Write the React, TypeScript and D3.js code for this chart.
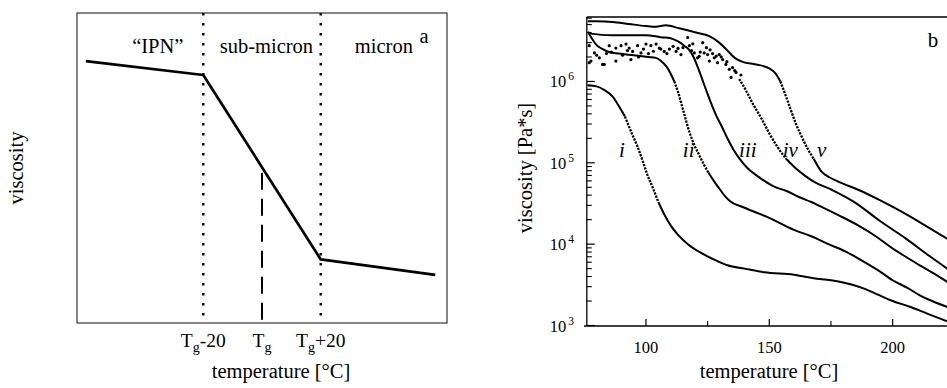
import React from "react";
import * as d3 from "d3";

// ---------- Panel a (schematic) ----------
const aLineT = [-60, -20, 20, 59];
const aLineV = [8.45, 8.0, 2.05, 1.55];
const aDotted = [-20, 20];
const aTg = 0;
const aTgTop = 4.85;
const aTicks = [
  { t: -20, sub: "g", rest: "-20" },
  { t: 0, sub: "g", rest: "" },
  { t: 20, sub: "g", rest: "+20" },
];
const aRegions = [
  { label: "\u201cIPN\u201d", t: -35.5 },
  { label: "sub-micron", t: 1.5 },
  { label: "micron", t: 41.5 },
];

// ---------- Panel b (measured) ----------
const curveI: [number, number][] = [
  [76.5, 8.9e5], [80, 8.7e5], [83, 7.9e5], [86.5, 6.5e5], [89, 5.0e5], [91.5, 3.7e5],
  [94, 2.4e5], [96.5, 1.6e5], [98.6, 1.07e5], [100.5, 7.2e4], [102.7, 5.0e4], [105, 3.3e4],
  [107.5, 2.3e4], [110, 1.7e4], [113, 1.3e4], [117, 1.0e4], [122, 7.9e3], [127, 6.6e3],
  [133, 5.5e3], [140, 5.0e3], [148, 4.5e3], [160, 4.2e3], [168, 3.8e3], [175, 3.6e3],
  [184, 3.15e3], [189, 2.8e3], [194, 2.4e3], [200, 2.0e3], [207, 1.7e3], [214, 1.4e3],
  [223, 1.1e3],
];
const curveII: [number, number][] = [
  [76.5, 4.1e6], [78, 3.4e6], [80, 2.8e6], [82.5, 2.5e6], [85, 2.3e6], [89, 2.2e6],
  [95, 2.1e6], [101, 2.0e6], [104, 1.95e6], [106, 1.8e6], [108.5, 1.5e6], [111.5, 1.0e6],
  [113, 7.4e5], [115.3, 4.2e5], [117.8, 2.3e5], [119.8, 1.6e5], [121.5, 1.26e5], [123.5, 9.5e4],
  [125.3, 7.6e4], [127.5, 6.0e4], [129.8, 4.8e4], [132, 3.9e4], [134, 3.4e4], [140, 2.8e4],
  [150, 2.1e4], [160, 1.5e4], [167, 1.25e4], [174, 1.0e4], [181, 8.1e3], [187.5, 6.3e3],
  [194, 4.8e3], [200, 3.6e3], [206, 2.9e3], [211, 2.35e3], [216, 2.0e3], [223, 1.65e3],
];
const curveIII: [number, number][] = [
  [76.5, 3.9e6], [86, 3.7e6], [100, 3.7e6], [106, 3.5e6], [110, 3.4e6], [113, 3.1e6],
  [115.5, 2.75e6], [117.5, 2.45e6], [119.3, 2.0e6], [121, 1.5e6], [123.5, 9.3e5], [126, 5.8e5],
  [128.5, 3.8e5], [131, 2.7e5], [133, 2.0e5], [135.5, 1.45e5], [138, 1.12e5], [141, 8.7e4],
  [144.5, 7.1e4], [148, 6.0e4], [152, 5.1e4], [157, 4.5e4], [162, 3.8e4], [167, 3.3e4],
  [172, 2.8e4], [179, 2.2e4], [186, 1.7e4], [193, 1.26e4], [199, 9.3e3], [205, 7.1e3],
  [211, 5.5e3], [217, 4.3e3], [223, 3.3e3],
];
const curveIV: [number, number][] = [
  [137.8, 1.07e6], [140.5, 7.8e5], [143.2, 5.4e5], [146.6, 3.6e5], [150, 2.3e5], [153.4, 1.55e5],
  [156.8, 1.12e5], [160.8, 8.5e4], [164, 7.1e4], [167.5, 6.0e4], [175.7, 4.6e4], [185.1, 3.2e4],
  [194.6, 1.95e4], [205.4, 1.17e4], [214.8, 7.2e3], [223, 4.8e3],
];
const curveIVScatter: [number, number][] = [
  [77.0, 2.75e6], [79.1, 2.24e6], [77.0, 1.7e6], [81.1, 1.95e6], [83.1, 1.62e6], [85.1, 2.75e6],
  [87.8, 2.57e6], [89.9, 2.75e6], [91.9, 2.88e6], [93.2, 2.57e6], [94.6, 2.34e6], [96.6, 2.75e6],
  [98.0, 2.24e6], [100.0, 2.88e6], [102.0, 2.75e6], [104.1, 2.88e6], [105.4, 2.57e6], [107.4, 2.34e6],
  [109.5, 2.5e6], [112.2, 2.34e6], [114.2, 2.14e6], [116.9, 3.47e6], [117.6, 2.75e6], [119.6, 2.24e6],
  [120.9, 1.95e6], [123.0, 3.0e6], [123.6, 2.24e6], [121.6, 2.04e6], [125.0, 2.14e6], [125.7, 1.78e6],
  [127.7, 1.95e6], [129.0, 1.7e6], [129.7, 2.14e6], [131.1, 1.86e6], [132.4, 1.62e6], [133.8, 1.41e6],
  [135.1, 1.48e6], [136.5, 1.29e6], [134.5, 1.12e6], [77.7, 1.78e6], [82.4, 1.62e6], [87.8, 1.78e6],
  [93.9, 1.86e6], [80, 2.1e6], [84, 2.2e6], [90.5, 2.1e6], [97, 2.0e6], [101, 2.2e6], [106, 2.5e6],
  [111, 2.7e6], [115, 2.6e6], [118.5, 2.4e6], [122, 2.3e6], [124.5, 2.6e6], [127, 2.2e6], [130.5, 2.0e6],
  [86, 2.3e6], [92.5, 2.4e6], [99, 2.5e6], [103, 2.35e6], [108.5, 2.2e6], [113, 2.55e6], [119, 2.9e6],
  [126, 2.45e6], [128.5, 2.05e6], [132.8, 1.75e6], [136, 1.36e6], [138.5, 1.2e6],
];
const curveV: [number, number][] = [
  [76.5, 5.5e6], [80, 5.5e6], [86.5, 5.4e6], [93, 5.1e6], [100, 4.8e6], [104, 4.7e6],
  [108, 4.9e6], [113.5, 4.5e6], [120.3, 4.0e6], [125.7, 3.6e6], [129.7, 3.0e6], [133, 2.4e6],
  [136, 1.95e6], [139.2, 1.74e6], [144.6, 1.62e6], [150, 1.45e6], [152.5, 1.26e6], [154.5, 1.0e6],
  [156.5, 6.9e5], [158.8, 4.4e5], [160.8, 3.0e5], [162.5, 2.3e5], [165.5, 1.5e5], [168, 1.12e5],
  [171, 7.9e4], [174.5, 6.6e4], [178.4, 5.8e4], [186.5, 4.6e4], [194.6, 3.5e4], [202.7, 2.6e4],
  [212.1, 1.78e4], [223, 1.12e4],
];
const bCurves = [curveI, curveII, curveIII, curveIV, curveV];
// temperature range in which each measured curve appears as separated dots
const bSparseRanges: ([number, number] | null)[] = [
  [91.5, 105],
  [111.5, 125.3],
  null,
  [137.8, 156.8],
  [154.5, 168],
];
const bLabels = [
  { text: "i", t: 90.3 },
  { text: "ii", t: 117.3 },
  { text: "iii", t: 141.3 },
  { text: "iv", t: 158.5 },
  { text: "v", t: 171.2 },
];
const bLabelEta = 1.04e5;
const bXMajor = [100, 150, 200];
const bXMinor = [125, 175];
const bYMajorExp = [3, 4, 5, 6];

const SERIF = "'Liberation Serif', 'Times New Roman', serif";

export default function App() {
  // Panel a scales
  const ax = d3.scaleLinear().domain([-63, 63]).range([77, 447]);
  const ay = d3.scaleLinear().domain([0, 10]).range([323, 13]);
  const aLine = d3
    .line<number>()
    .x((_, i) => ax(aLineT[i]))
    .y((d) => ay(d));

  // Panel b scales
  const bx = d3.scaleLinear().domain([75, 225]).range([584.3, 954.3]);
  const by = d3.scaleLog().domain([1e3, 6.2e6]).range([325.5, 17]);
  const bLine = d3
    .line<[number, number]>()
    .x((d) => bx(d[0]))
    .y((d) => by(d[1]))
    .curve(d3.curveMonotoneX);

  const minorY: number[] = [];
  for (let e = 3; e <= 6; e++) {
    for (let k = 2; k <= 9; k++) {
      const v = k * Math.pow(10, e);
      if (v < 6.2e6) minorY.push(v);
    }
  }

  const pieces: { d: string; sparse: boolean }[] = [];
  bCurves.forEach((c, i) => {
    const r = bSparseRanges[i];
    if (!r) {
      pieces.push({ d: bLine(c) || "", sparse: false });
      return;
    }
    const before = c.filter((p) => p[0] <= r[0]);
    const mid = c.filter((p) => p[0] >= r[0] && p[0] <= r[1]);
    const after = c.filter((p) => p[0] >= r[1]);
    if (before.length > 1) pieces.push({ d: bLine(before) || "", sparse: false });
    if (mid.length > 1) pieces.push({ d: bLine(mid) || "", sparse: true });
    if (after.length > 1) pieces.push({ d: bLine(after) || "", sparse: false });
  });

  const bLeft = 586.8;
  const bTop = 17;
  const bBottom = 326;

  return (
    <svg width={947} height={388} style={{ position: "absolute", left: 0, top: 0, background: "#fff" }} fontFamily={SERIF}>
      <rect x={0} y={0} width={947} height={388} fill="#fff" />
      {/* ---------- Panel a ---------- */}
      <rect x={77} y={13} width={370} height={310} fill="none" stroke="#222" strokeWidth={1.1} />
      {aDotted.map((t) => (
        <line key={t} x1={ax(t)} x2={ax(t)} y1={ay(10)} y2={ay(0)} stroke="#000" strokeWidth={2.4} strokeDasharray="2.4,7.6" />
      ))}
      <line x1={ax(aTg)} x2={ax(aTg)} y1={ay(aTgTop)} y2={ay(0)} stroke="#000" strokeWidth={2} strokeDasharray="17,9" />
      <path d={aLine(aLineV) || ""} fill="none" stroke="#000" strokeWidth={2.7} strokeLinejoin="round" />
      {aRegions.map((r) => (
        <text key={r.label} x={ax(r.t)} y={53} textAnchor="middle" fontSize={20.5} fill="#000">
          {r.label}
        </text>
      ))}
      <text x={424} y={43} textAnchor="middle" fontSize={20.5} fill="#000">a</text>
      {aTicks.map((tk) => (
        <text key={tk.t} x={ax(tk.t)} y={347} textAnchor="middle" fontSize={19.5} fill="#000">
          T<tspan dy={5} fontSize={14}>{tk.sub}</tspan>
          <tspan dy={-5}>{tk.rest}</tspan>
        </text>
      ))}
      <text x={281} y={378} textAnchor="middle" fontSize={20.5} fill="#000">temperature [°C]</text>
      <text transform="translate(23,168) rotate(-90)" textAnchor="middle" fontSize={20.5} fill="#000">viscosity</text>

      {/* ---------- Panel b ---------- */}
      <line x1={bLeft} x2={947} y1={bTop} y2={bTop} stroke="#000" strokeWidth={1.3} />
      <line x1={bLeft} x2={bLeft} y1={bTop} y2={bBottom} stroke="#000" strokeWidth={1.3} />
      <line x1={584} x2={947} y1={bBottom} y2={bBottom} stroke="#000" strokeWidth={1.3} />
      {bYMajorExp.map((e) => (
        <g key={e}>
          <line x1={bLeft} x2={bLeft + 8} y1={by(Math.pow(10, e))} y2={by(Math.pow(10, e))} stroke="#000" strokeWidth={1.2} />
          <text x={574} y={by(Math.pow(10, e)) + 6} textAnchor="end" fontSize={16.5} fill="#000">
            10<tspan dx={2} dy={-7} fontSize={11.5}>{e}</tspan>
          </text>
        </g>
      ))}
      {minorY.map((v) => (
        <line key={v} x1={bLeft} x2={bLeft + 5} y1={by(v)} y2={by(v)} stroke="#000" strokeWidth={1.1} />
      ))}
      {bXMajor.map((t) => (
        <g key={t}>
          <line x1={bx(t)} x2={bx(t)} y1={bBottom} y2={bBottom - 7} stroke="#000" strokeWidth={1.2} />
          <text x={bx(t)} y={353} textAnchor="middle" fontSize={16.5} fill="#000">{t}</text>
        </g>
      ))}
      {bXMinor.map((t) => (
        <line key={t} x1={bx(t)} x2={bx(t)} y1={bBottom} y2={bBottom - 5} stroke="#000" strokeWidth={1.1} />
      ))}
      {pieces.map((p, i) => (
        <path
          key={i}
          d={p.d}
          fill="none"
          stroke="#000"
          strokeWidth={p.sparse ? 2.3 : 2}
          strokeLinejoin="round"
          strokeDasharray={p.sparse ? "2.2,1.2" : undefined}
        />
      ))}
      {curveIVScatter.map((d, i) => (
        <circle key={i} cx={bx(d[0])} cy={by(d[1])} r={1.6} fill="#000" />
      ))}
      {bLabels.map((l) => (
        <text key={l.text} x={bx(l.t)} y={by(bLabelEta) - 4} textAnchor="middle" fontSize={21} fontStyle="italic" fill="#000">
          {l.text}
        </text>
      ))}
      <text x={933} y={47} textAnchor="middle" fontSize={21} fill="#000">b</text>
      <text x={769} y={378} textAnchor="middle" fontSize={20.5} fill="#000">temperature [°C]</text>
      <text transform="translate(532,168) rotate(-90)" textAnchor="middle" fontSize={20.5} fill="#000">viscosity [Pa*s]</text>
    </svg>
  );
}
